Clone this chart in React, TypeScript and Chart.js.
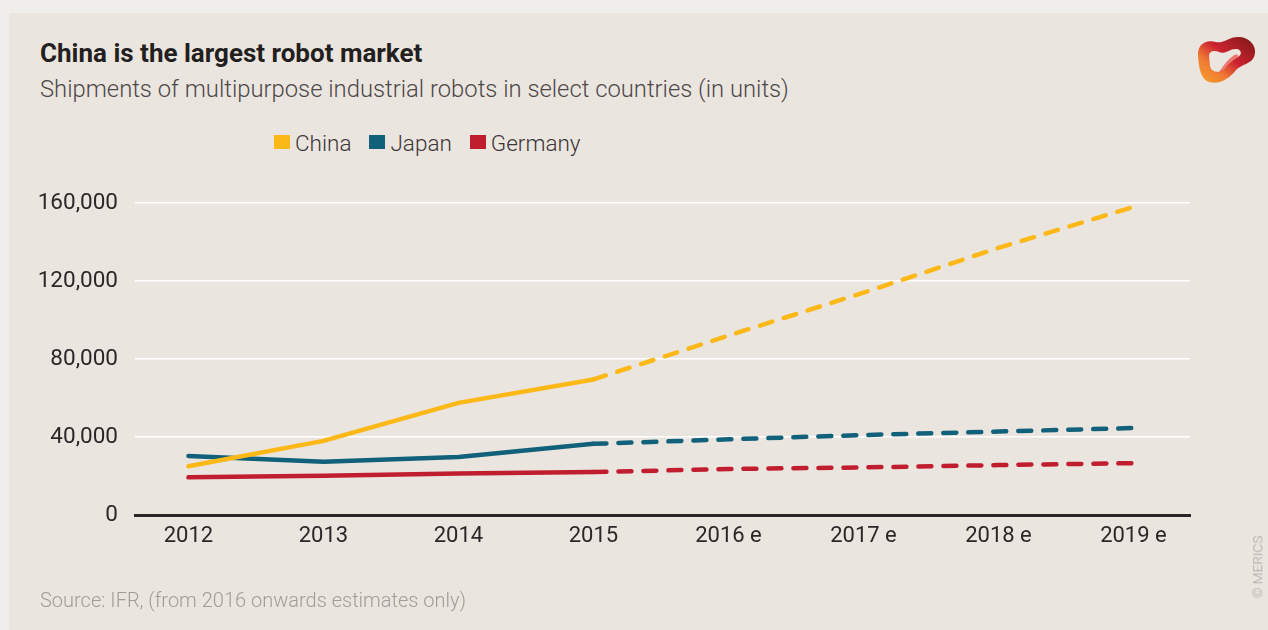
import React, { useEffect, useRef } from 'react';
import { Chart, registerables } from 'chart.js';
Chart.register(...registerables);

const years = ['2012', '2013', '2014', '2015', '2016 e', '2017 e', '2018 e', '2019 e'];
const china = [25000, 38000, 57500, 69500, 92000, 114000, 137000, 158000];
const japan = [30300, 27300, 29800, 36500, 38800, 41000, 42800, 44600];
const germany = [19300, 20100, 21300, 22000, 23600, 24400, 25600, 26600];
const yTickStep = 40000;
const yMax = 160000;
const firstEstimate = 4;

const seriesNames = ['China', 'Japan', 'Germany'];
const seriesColors = ['#fbb817', '#11617a', '#c01e2e'];

const FONT = 'Roboto, "Noto Sans", sans-serif';

function Logo() {
  return (
    <svg width={62} height={52} viewBox="0 0 62 52" style={{ position: 'absolute', left: 1196, top: 34 }}>
      <defs>
        <linearGradient id="lg" x1="0" y1="1" x2="1" y2="0">
          <stop offset="0" stopColor="#f7a52b" />
          <stop offset="0.3" stopColor="#f07a34" />
          <stop offset="0.55" stopColor="#cc2330" />
          <stop offset="1" stopColor="#7a1816" />
        </linearGradient>
        <linearGradient id="lg2" x1="0" y1="0" x2="1" y2="1">
          <stop offset="0" stopColor="#e23b45" />
          <stop offset="1" stopColor="#f36a4c" />
        </linearGradient>
      </defs>
      <path
        fillRule="evenodd"
        fill="url(#lg)"
        d="M2 22 C1 10 10 5 20 8 C28 10 33 2 44 3 C55 4 62 14 58 23 C55 30 46 30 40 36 C34 44 24 51 13 48 C4 45 3 33 2 22 Z
           M13 22 C13 17 18 16 23 18 C29 21 34 14 41 15 C46 16 46 21 42 23 C36 26 32 30 28 35 C24 40 15 38 14 32 Z"
      />
      <path fill="url(#lg2)" opacity={0.75} d="M42 23 C36 26 32 30 28 35 C26 38 24 39 22 39 C27 33 31 26 37 22 C40 20 43 20 42 23 Z" />
    </svg>
  );
}

export default function App() {
  const ref = useRef<HTMLCanvasElement>(null);
  useEffect(() => {
    if (!ref.current) return;
    const mk = (values: number[]) => values.map((v, i) => ({ x: i, y: v }));
    const ds = (label: string, values: number[], color: string) => ({
      label,
      data: mk(values),
      borderColor: color,
      backgroundColor: color,
      borderWidth: 4.5,
      pointRadius: 0,
      borderCapStyle: 'round' as const,
      borderJoinStyle: 'round' as const,
      tension: 0,
      segment: {
        borderDash: (ctx: any) => (ctx.p1DataIndex >= firstEstimate ? [13, 12] : undefined),
      },
    });
    const chart = new Chart(ref.current, {
      type: 'line',
      data: {
        datasets: [
          ds(seriesNames[0], china, seriesColors[0]),
          ds(seriesNames[1], japan, seriesColors[1]),
          ds(seriesNames[2], germany, seriesColors[2]),
        ],
      },
      options: {
        animation: false,
        responsive: false,
        layout: { padding: { left: 0, top: 203, right: 78, bottom: 75 } },
        plugins: { legend: { display: false }, tooltip: { enabled: false } },
        scales: {
          x: {
            type: 'linear',
            min: -0.396,
            max: 7.419,
            afterBuildTicks: (s: any) => {
              s.ticks = years.map((_, i) => ({ value: i }));
            },
            afterFit: (s: any) => {
              s.height = 40;
            },
            grid: { display: false, drawTicks: false },
            border: { display: true, color: '#2a2627', width: 3 },
            ticks: {
              callback: (v: any) => years[v],
              color: '#2b2728',
              font: { family: FONT, size: 22 },
              padding: 8,
              maxRotation: 0,
            },
          },
          y: {
            min: 0,
            max: yMax,
            afterFit: (s: any) => {
              s.width = 135;
            },
            grid: {
              color: (ctx: any) => (ctx.tick.value === 0 ? 'rgba(0,0,0,0)' : '#ffffff'),
              lineWidth: 1.5,
              drawTicks: false,
            },
            border: { display: false },
            ticks: {
              stepSize: yTickStep,
              color: '#2b2728',
              font: { family: FONT, size: 22.5 },
              padding: 17,
              callback: (v: any) => Number(v).toLocaleString('en-US'),
            },
          },
        },
      },
    });
    return () => chart.destroy();
  }, []);
  return (
    <div style={{ position: 'fixed', inset: 0, background: '#efeeea', overflow: 'hidden', fontFamily: FONT }}>
      <div style={{ position: 'absolute', left: 9, top: 13, right: 0, bottom: 0, background: '#ebe5df' }} />
      <div
        style={{
          position: 'absolute', left: 40, top: 40.4, fontSize: 26, lineHeight: 1, fontWeight: 700,
          color: '#231f20', whiteSpace: 'nowrap',
        }}
      >
        China is the largest robot market
      </div>
      <div
        style={{
          position: 'absolute', left: 40, top: 77.7, fontSize: 23.8, lineHeight: 1, fontWeight: 300,
          color: '#4d4849', whiteSpace: 'nowrap',
        }}
      >
        Shipments of multipurpose industrial robots in select countries (in units)
      </div>
      <div style={{ position: 'absolute', left: 274, top: 132.3, display: 'flex', alignItems: 'flex-start', whiteSpace: 'nowrap' }}>
        {seriesNames.map((n, i) => (
          <div key={n} style={{ display: 'flex', alignItems: 'flex-start', marginRight: 18 }}>
            <div style={{ width: 16, height: 14, background: seriesColors[i], marginTop: 3, marginRight: 5 }} />
            <div style={{ fontSize: 22.5, lineHeight: 1, fontWeight: 300, color: '#3b3637' }}>{n}</div>
          </div>
        ))}
      </div>
      <canvas ref={ref} width={1268} height={630} style={{ position: 'absolute', left: 0, top: 0 }} />
      <div
        style={{
          position: 'absolute', left: 40, top: 589.9, fontSize: 20, lineHeight: 1, fontWeight: 300,
          color: '#a29c98', whiteSpace: 'nowrap',
        }}
      >
        Source: IFR, (from 2016 onwards estimates only)
      </div>
      <div style={{ position: 'absolute', left: 1258, top: 567, width: 0, height: 0 }}>
        <div
          style={{
            position: 'absolute', left: 0, top: 0, transform: 'translate(-50%, -50%) rotate(-90deg)',
            fontSize: 13.5, lineHeight: 1, fontWeight: 300, color: '#a9a4a0', whiteSpace: 'nowrap',
          }}
        >
          © MERICS
        </div>
      </div>
      <Logo />
    </div>
  );
}
